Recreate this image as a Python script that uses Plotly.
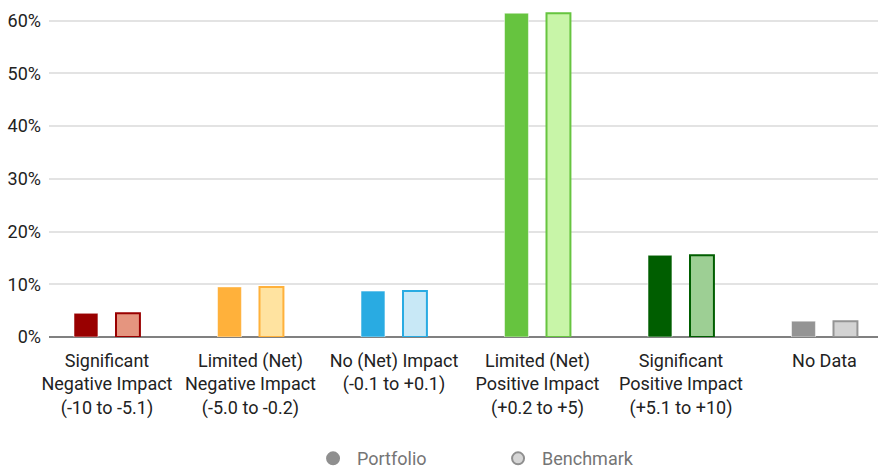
import plotly.graph_objects as go

categories = [
    "Significant<br>Negative Impact<br>(-10 to -5.1)",
    "Limited (Net)<br>Negative Impact<br>(-5.0 to -0.2)",
    "No (Net) Impact<br>(-0.1 to +0.1)",
    "Limited (Net)<br>Positive Impact<br>(+0.2 to +5)",
    "Significant<br>Positive Impact<br>(+5.1 to +10)",
    "No Data",
]
portfolio = [0.045, 0.095, 0.087, 0.614, 0.155, 0.030]
benchmark = [0.045, 0.095, 0.087, 0.614, 0.155, 0.030]

portfolio_colors = ["#990000", "#FFB13B", "#29ABE2", "#66C43F", "#005E00", "#949494"]
benchmark_colors = ["#E5957F", "#FFE3A0", "#C8E8F6", "#C8F5A8", "#9DCF94", "#D3D3D3"]

x = list(range(len(categories)))

fig = go.Figure()
fig.add_trace(go.Bar(
    x=x, y=portfolio, name="Portfolio", showlegend=False,
    marker=dict(color=portfolio_colors, line=dict(color="rgba(255,255,255,0.5)", width=1)),
))
fig.add_trace(go.Bar(
    x=x, y=benchmark, name="Benchmark", showlegend=False,
    marker=dict(color=benchmark_colors, line=dict(color=portfolio_colors, width=2)),
))

# legend entries as circle markers
fig.add_trace(go.Scatter(
    x=[None], y=[None], mode="markers", name="Portfolio",
    marker=dict(symbol="circle", size=15, color="#8F8F8F", line=dict(color="#8F8F8F", width=1)),
))
fig.add_trace(go.Scatter(
    x=[None], y=[None], mode="markers", name="Benchmark",
    marker=dict(symbol="circle", size=15, color="#D6D6D6", line=dict(color="#8F8F8F", width=1.5)),
))

fig.update_layout(
    width=878, height=470,
    margin=dict(l=49, r=0, t=10, b=133, autoexpand=False),
    paper_bgcolor="white", plot_bgcolor="white",
    font=dict(family="Roboto", size=18, color="#222222"),
    barmode="group", bargap=0.415, bargroupgap=0.43,
    xaxis=dict(
        tickmode="array", tickvals=x, ticktext=categories,
        range=[-0.404, 5.373], showgrid=False, zeroline=False,
        showline=False, ticks="", ticklabelstandoff=11,
        tickfont=dict(size=18, color="#222222"), automargin=False,
    ),
    yaxis=dict(
        range=[0, 0.62], tickmode="linear", tick0=0, dtick=0.1,
        tickformat=".0%", showgrid=True, gridcolor="#E3E3E3", gridwidth=1.5,
        zeroline=True, zerolinecolor="#808080", zerolinewidth=2,
        ticks="", ticklabelstandoff=7, tickfont=dict(size=18, color="#222222"),
        fixedrange=True, automargin=False,
    ),
    legend=dict(
        orientation="h", x=0.3137, xanchor="left", y=-0.372, yanchor="middle",
        font=dict(size=18, color="#757575"), entrywidth=132, itemwidth=38,
        itemsizing="constant",
    ),
    showlegend=True,
)

fig.write_html("out.html")
